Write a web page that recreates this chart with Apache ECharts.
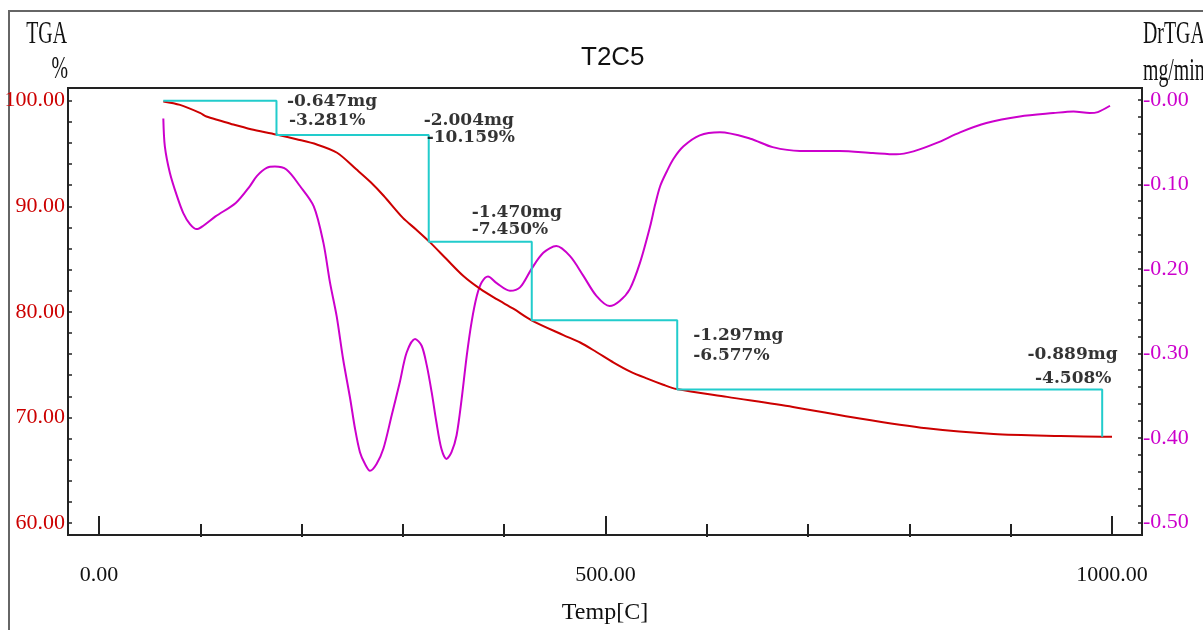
<!DOCTYPE html>
<html>
<head>
<meta charset="utf-8">
<script src="https://cdn.jsdelivr.net/npm/echarts@6/dist/echarts.min.js"></script>
<style>
html,body{margin:0;padding:0;background:#fff;}
#chart{width:1203px;height:630px;}
</style>
</head>
<body>
<div id="chart"></div>
<script>
// ---- data ----
const tgaTemp = [63.5, 80, 99.7, 106, 120, 132.6, 150, 175, 195, 215, 235, 254, 268, 281, 300, 313, 326.8, 343, 359.7, 376, 392.6, 409, 427, 458.4, 475, 491, 508, 524, 540.6, 557, 570, 620, 685, 751, 817, 883, 949, 990, 1000];
const tgaVal  = [99.93, 99.6, 98.84, 98.5, 98.1, 97.74, 97.3, 96.8, 96.35, 95.85, 95.07, 93.5, 92.3, 91.0, 88.9, 87.8, 86.58, 85.0, 83.4, 82.2, 81.2, 80.3, 79.2, 77.8, 77.1, 76.2, 75.2, 74.37, 73.7, 73.1, 72.7, 71.95, 71.0, 69.9, 68.97, 68.43, 68.24, 68.18, 68.18];

const drTemp = [63.5, 65, 70, 77, 83.2, 89.8, 96.4, 103, 115, 135, 149, 156, 165.5, 173.7, 185, 198.4, 212, 221.5, 228, 234.6, 241, 248, 252.7, 257.6, 262.6, 267.5, 274, 280.7, 289, 297, 303.7, 312, 318.5, 323.5, 328.4, 333, 338, 343, 348, 353, 358, 363, 367.8, 373, 377.8, 384, 392.6, 405.7, 415.6, 427, 438.6, 451.5, 465, 478, 491, 504, 514, 524, 534, 544, 549, 554, 560, 567, 577, 593, 613, 643, 665, 692, 731, 764, 787, 804, 827, 850, 876, 909, 942, 962, 978, 986, 998];
const drVal  = [-0.022, -0.055, -0.0865, -0.114, -0.134, -0.147, -0.153, -0.149, -0.138, -0.122, -0.102, -0.090, -0.0806, -0.079, -0.0825, -0.102, -0.126, -0.169, -0.216, -0.256, -0.307, -0.354, -0.389, -0.417, -0.431, -0.439, -0.431, -0.413, -0.373, -0.334, -0.299, -0.283, -0.291, -0.314, -0.346, -0.381, -0.413, -0.425, -0.417, -0.397, -0.354, -0.303, -0.263, -0.232, -0.216, -0.209, -0.217, -0.226, -0.222, -0.200, -0.181, -0.173, -0.185, -0.208, -0.232, -0.244, -0.238, -0.224, -0.193, -0.150, -0.124, -0.102, -0.086, -0.070, -0.055, -0.042, -0.0385, -0.046, -0.056, -0.0605, -0.0605, -0.063, -0.0645, -0.061, -0.051, -0.0385, -0.0275, -0.0197, -0.0157, -0.0138, -0.0157, -0.0145, -0.007];

const stepTemp = [63.5, 175.2, 175.2, 325.5, 325.5, 427.2, 427.2, 570.8, 570.8, 990.3, 990.3];
const stepVal  = [100, 100, 96.75, 96.75, 86.65, 86.65, 79.2, 79.2, 72.64, 72.64, 68.18];

const annText = ['-0.647mg', '-3.281%', '-2.004mg', '-10.159%', '-1.470mg', '-7.450%', '-1.297mg', '-6.577%', '-0.889mg', '-4.508%'];
const annTemp = [185.5, 187.5, 320.5, 323.5, 368, 368, 586.5, 586.5, 916.5, 924];
const annVal  = [99.95, 98.1, 98.1, 96.5, 89.4, 87.8, 77.8, 75.9, 76.0, 73.65];

const tempLabels = [0, 500, 1000];
const tempMinor  = [100, 200, 300, 400, 600, 700, 800, 900];
const tgaLabels  = [60, 70, 80, 90, 100];
const tgaTicks   = [60, 62, 64, 66, 68, 70, 72, 74, 76, 78, 80, 82, 84, 86, 88, 90, 92, 94, 96, 98, 100];
const drLabels   = [-0.5, -0.4, -0.3, -0.2, -0.1, 0];
const drTicks    = [-0.5, -0.48, -0.46, -0.44, -0.42, -0.4, -0.38, -0.36, -0.34, -0.32, -0.3, -0.28, -0.26, -0.24, -0.22, -0.2, -0.18, -0.16, -0.14, -0.12, -0.1, -0.08, -0.06, -0.04, -0.02, 0];

// ---- chart ----
const chart = echarts.init(document.getElementById('chart'), null, {renderer: 'canvas'});
const zip = (a, b) => a.map((v, i) => [v, b[i]]);
const serif = '"Liberation Serif", "Times New Roman", serif';
const gridPos = {left: 68, right: 61, top: 88, bottom: 93};

const option = {
  animation: false,
  backgroundColor: '#fff',
  title: {
    text: 'T2C5', left: 576, top: 40,
    textStyle: {fontFamily: '"Liberation Sans", Arial, sans-serif', fontSize: 26, fontWeight: 'normal', color: '#111'}
  },
  grid: [
    Object.assign({show: true, borderColor: '#222', borderWidth: 2}, gridPos),
    Object.assign({show: false}, gridPos)
  ],
  xAxis: [
    {
      type: 'value', gridIndex: 0, min: -30.6, max: 1029.6, position: 'bottom',
      axisLine: {show: true, onZero: false, lineStyle: {color: '#222', width: 2}},
      axisTick: {show: true, inside: true, length: 19, customValues: tempLabels, lineStyle: {color: '#222', width: 2}},
      axisLabel: {show: true, customValues: tempLabels, margin: 29, color: '#111', fontFamily: serif, fontSize: 22,
        formatter: v => v.toFixed(2)},
      splitLine: {show: false},
      name: 'Temp[C]', nameLocation: 'middle', nameGap: 66,
      nameTextStyle: {fontFamily: serif, fontSize: 24, color: '#111'}
    },
    {
      type: 'value', gridIndex: 1, min: -30.6, max: 1029.6, position: 'bottom',
      axisLine: {show: true, onZero: false, lineStyle: {color: 'rgba(0,0,0,0)', width: 0}},
      axisTick: {show: true, inside: true, length: 13, customValues: tempMinor, lineStyle: {color: '#222', width: 2}},
      axisLabel: {show: false},
      splitLine: {show: false}
    }
  ],
  yAxis: [
    {
      type: 'value', gridIndex: 0, min: 58.87, max: 101.2, position: 'left',
      axisLine: {show: true, onZero: false, lineStyle: {color: '#222', width: 2}},
      axisTick: {show: true, inside: true, length: 4, customValues: tgaTicks, lineStyle: {color: '#222', width: 1.5}},
      axisLabel: {show: true, customValues: tgaLabels, margin: 3, color: '#cc0000', fontFamily: serif, fontSize: 22,
        formatter: v => v.toFixed(2)},
      splitLine: {show: false}
    },
    {
      type: 'value', gridIndex: 0, min: -0.515, max: 0.014, position: 'right',
      axisLine: {show: true, onZero: false, lineStyle: {color: '#222', width: 2}},
      axisTick: {show: true, inside: true, length: 4, customValues: drTicks, lineStyle: {color: '#222', width: 1.5}},
      axisLabel: {show: true, customValues: drLabels, margin: 1, color: '#cc00cc', fontFamily: serif, fontSize: 22,
        formatter: v => (v <= 0 ? '-' : '') + Math.abs(v).toFixed(2)},
      splitLine: {show: false}
    },
    {type: 'value', gridIndex: 1, min: 0, max: 1, show: false, axisLine: {onZero: false}}
  ],
  series: [
    {
      name: 'TGA', type: 'line', xAxisIndex: 0, yAxisIndex: 0, data: zip(tgaTemp, tgaVal),
      showSymbol: false, symbol: 'none', smooth: 0.3, lineStyle: {color: '#cc0000', width: 2}, z: 3
    },
    {
      name: 'DrTGA', type: 'line', xAxisIndex: 0, yAxisIndex: 1, data: zip(drTemp, drVal),
      showSymbol: false, symbol: 'none', smooth: 0.3, lineStyle: {color: '#cc00cc', width: 2}, z: 2
    },
    {
      name: 'Steps', type: 'line', xAxisIndex: 0, yAxisIndex: 0, data: zip(stepTemp, stepVal),
      showSymbol: false, symbol: 'none', lineStyle: {color: '#22cccc', width: 2}, z: 4
    },
    {
      name: 'Labels', type: 'scatter', xAxisIndex: 0, yAxisIndex: 0, symbolSize: 0, silent: true,
      data: annText.map((t, i) => ({name: t, value: [annTemp[i], annVal[i]]})),
      label: {show: true, position: 'right', distance: 0, formatter: p => p.name,
        fontFamily: '"DejaVu Serif", serif', fontSize: 17, fontWeight: 'bold', color: '#000'},
      z: 5
    }
  ],
  graphic: [
    {type: 'polyline', shape: {points: [[9, 630], [9, 11], [1203, 11]]}, style: {stroke: '#666', lineWidth: 2, fill: null}, silent: true},
    {type: 'text', x: 67, y: 19, scaleX: 0.62, style: {text: 'TGA', font: '32px ' + serif, fill: '#111', textAlign: 'right', textVerticalAlign: 'top'}},
    {type: 'text', x: 68, y: 54, scaleX: 0.62, style: {text: '%', font: '32px ' + serif, fill: '#111', textAlign: 'right', textVerticalAlign: 'top'}},
    {type: 'text', x: 1143, y: 19, scaleX: 0.62, style: {text: 'DrTGA', font: '32px ' + serif, fill: '#111', textAlign: 'left', textVerticalAlign: 'top'}},
    {type: 'text', x: 1143, y: 56, scaleX: 0.62, style: {text: 'mg/min', font: '32px ' + serif, fill: '#111', textAlign: 'left', textVerticalAlign: 'top'}}
  ]
};
chart.setOption(option);
</script>
</body>
</html>
